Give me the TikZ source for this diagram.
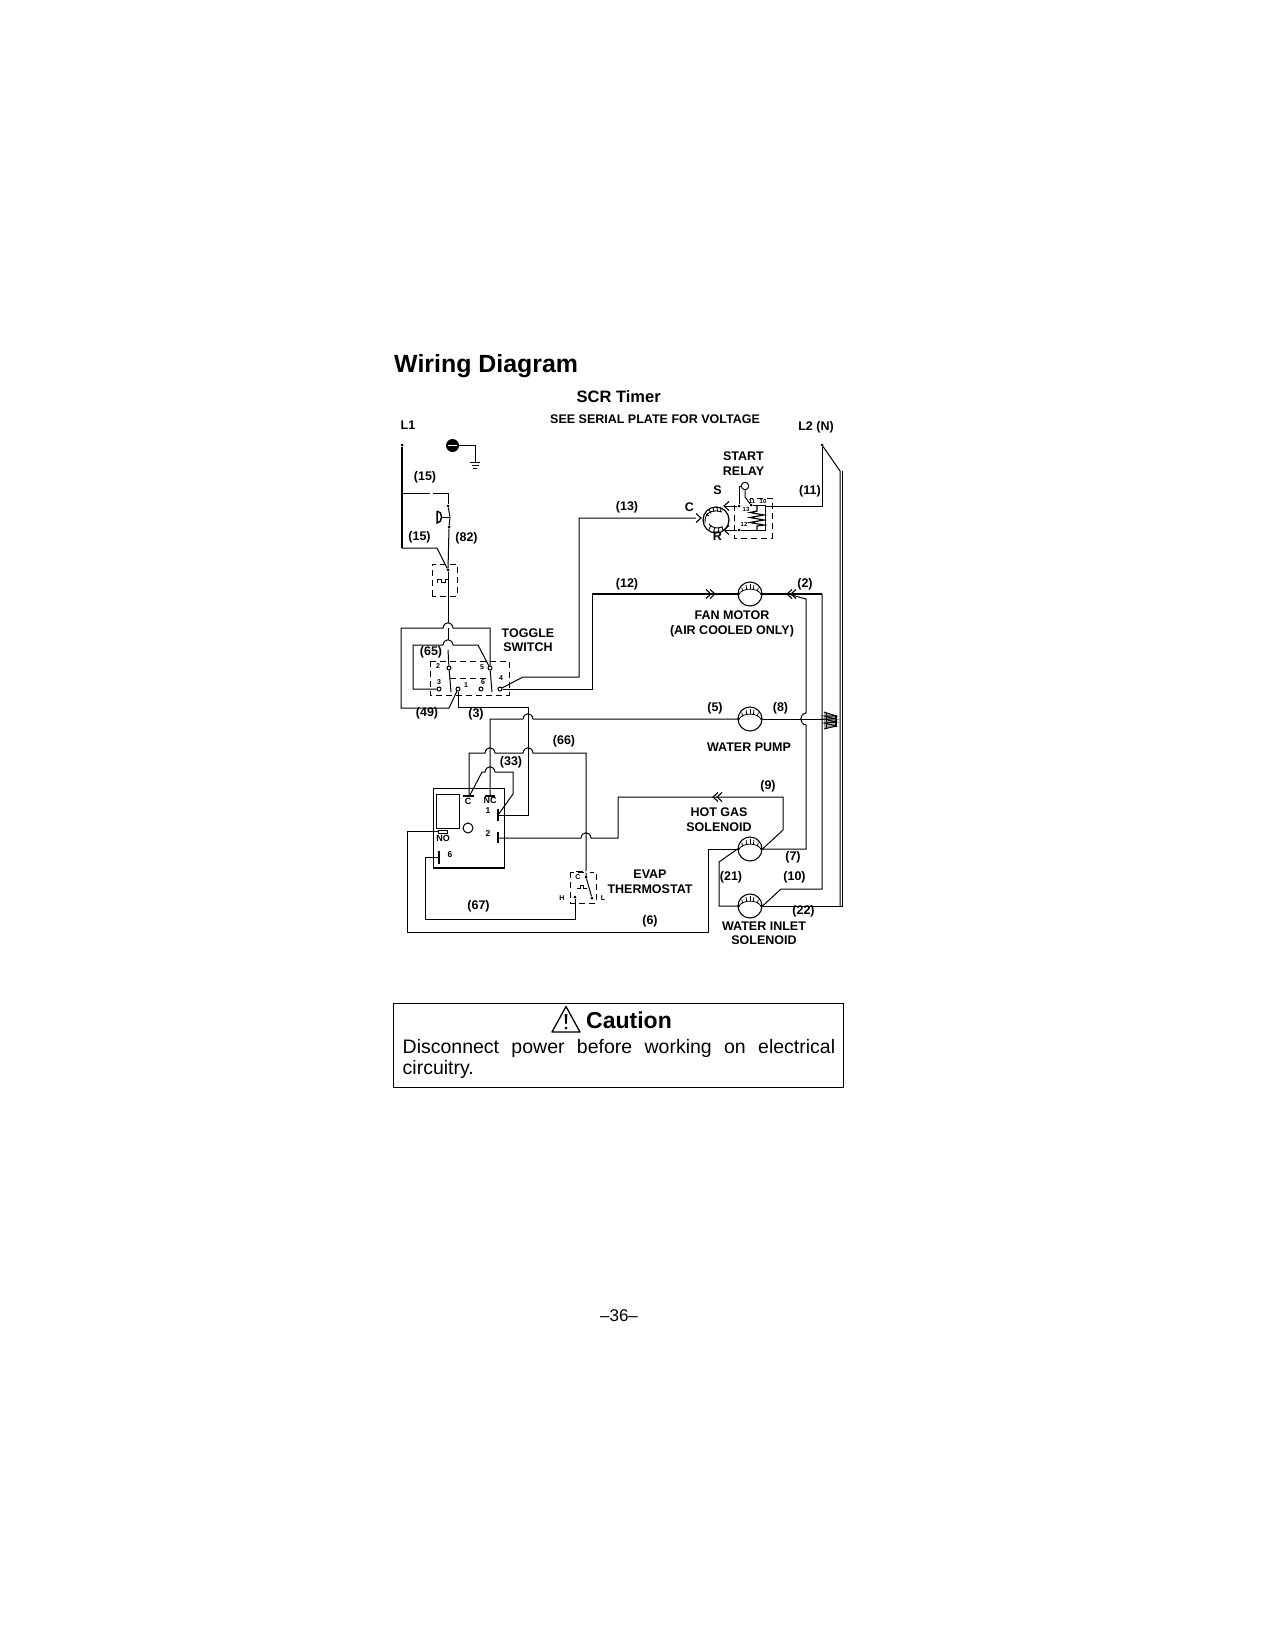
\documentclass[tikz,border=0pt]{standalone}
\usepackage{fontspec}
\setmainfont{Liberation Sans}
\newcommand{\hopU}[2]{-- (#1-5,#2) .. controls (#1-4,#2-7) and (#1+4,#2-7) .. (#1+5,#2)}
\newcommand{\hopL}[2]{-- (#1,#2+6) .. controls (#1-7,#2+5) and (#1-7,#2-5) .. (#1,#2-6)}
\newcommand{\fs}[1]{\fontsize{#1}{#1}\selectfont}
\newcommand{\fsl}[1]{\fontsize{12.5}{#1}\selectfont\bfseries}
\tikzset{
  x=1pt,y=-1pt,
  wire/.style={line width=1pt,line join=miter},
  heavy/.style={line width=2.2pt},
  dashbox/.style={line width=1pt,dash pattern=on 6pt off 4pt},
  lab/.style={inner sep=0pt,font=\fs{12.5}\bfseries},
  labl/.style={inner sep=0pt,align=center,font=\fsl{#1}},
  tiny/.style={inner sep=0pt,font=\fs{7}\bfseries},
  dot/.style={circle,fill=black,inner sep=0pt,minimum size=3pt},
  odot/.style={circle,draw=black,fill=white,line width=1pt,inner sep=0pt,minimum size=4pt},
  motor/.style={circle,draw=black,fill=white,line width=1.1pt,inner sep=0pt,minimum size=24pt},
  bar/.style={line width=1.8pt},
}
\newcommand{\windings}[2]{%
  \draw[line width=.8pt] (#1-11,#2) .. controls (#1-7,#2-6.5) and (#1+7,#2-6.5) .. (#1+11,#2);
  \foreach \dx/\yi/\yo in {-7.5/-2.8/-6.5,-3.5/-4.5/-9,0/-5/-9.8,3.5/-4.5/-9,7.5/-2.8/-6.5}
    \draw[line width=.8pt] (#1+\dx,#2+\yi) -- (#1+\dx*1.1,#2+\yo);
  \fill (#1-11.5,#2) circle[radius=1.3] (#1+11.5,#2) circle[radius=1.3];
}
\newcommand{\chev}[3]{% x, y, direction (+1 right, -1 left)
  \draw[line width=1.1pt] (#1-#3*5,#2-4.5) -- (#1,#2) -- (#1-#3*5,#2+4.5);
}
\begin{document}
\begin{tikzpicture}
\useasboundingbox (0,0) rectangle (1275,1651);
\fill[white] (0,0) rectangle (1275,1651);

% headings
\node[anchor=base west,inner sep=0pt,font=\fs{24.9}\bfseries] (title) at (394,372) {Wiring Diagram};
\node[anchor=base west,inner sep=0pt,font=\fs{16.5}\bfseries] (scr) at (576.5,402) {SCR Timer};
\node[lab,anchor=west] (see) at (550,419) {SEE SERIAL PLATE FOR VOLTAGE};
\node[lab,anchor=west] (l1) at (400.5,425) {L1};
\node[lab] (l2) at (816,427) {L2 (N)};

% named terminals
\node[dot] (L1t) at (402,445) {};
\node[dot] (L2t) at (822,445) {};
\node[dot] (sw1) at (448,506) {};
\node[dot] (sw2) at (449,527) {};
\node[dot] (hp)  at (448,570) {};
\node[odot] (c2) at (449,668) {};
\node[odot] (c5) at (490,668) {};
\node[odot] (c3) at (439,689) {};
\node[odot] (c1) at (458,689) {};
\node[odot] (c6) at (481,689) {};
\node[odot] (c4) at (500,689) {};

% ground
\node[circle,fill=black,inner sep=0pt,minimum size=13pt] (gnd) at (452.5,445.5) {};
\draw[white,line width=1.1pt] (448,445.5) -- (457,445.5);
\coordinate (gb) at (475,462);
\draw[wire] (gnd) -- (475,445.5) -- (gb);
\draw[wire] (470,462) -- (480,462) (471.5,465.5) -- (478.5,465.5) (473,468.8) -- (477,468.8);

% L1 and high pressure / thermal
\draw[heavy] (L1t) -- (402,548);
\draw[wire] (402,493) -- (430,493) (433,493) -- (448,493) -- (sw1);
\draw[wire] (sw1) -- (450,517) -- (sw2);
\draw[wire] (sw2) -- (hp);
\draw[wire] (402,548) -- (437,548) -- (hp);
\draw[line width=1.5pt] (437,511) -- (437,523) .. controls (443,523) and (443,511) .. (437,511);
\draw[wire] (442,517) -- (449,517);
\draw[dashbox] (432,596) -- (432,564) -- (457,564) -- (457,596) -- cycle;
\draw[wire] (437,583) -- (437,579) -- (441,579) -- (441,582) -- (445,582) -- (445,579) -- (449,579);
\draw[wire] (hp) -- (448,623);

% toggle switch
\draw[dashbox] (430,661) rectangle (509,695);
\draw[dashbox] (450,678) -- (490,678);
\draw[wire] (448,628) -- (448,640);
\draw[wire] (448,650) -- (c2);
\draw[wire] (c2) -- (451,692);
\draw[wire] (c5) -- (492,692);
\draw[wire] (c1) -- (449,708) -- (401,708) -- (401,628) \hopU{448}{628} -- (490,628) -- (c5);
\draw[wire] (c3) -- (413,689) -- (413,645) \hopU{448}{645} -- (478,645) -- (c5);
\draw[wire] (c4) -- (523,677) -- (579,677) -- (579,518) -- (696,518);
\draw[wire] (c4) -- (592,689) -- (592,594);
\draw[heavy] (592,594) -- (738,594);
\draw[heavy] (762,594) -- (822,594);

% centre wiring
\draw[wire] (c1) -- (458,707) -- (528,707) -- (528,815) -- (498,815);
\draw[wire] (490,795) -- (490,719) \hopU{528}{719} -- (738,719);
\draw[wire] (469,795) -- (469,753) \hopU{490}{753} \hopU{528}{753} -- (586,753) -- (586,877);
\draw[wire] (470,795) -- (482,772) \hopU{490}{772} -- (513,772) -- (513,794) -- (498,815);

% SCR board
\draw[wire] (433,868) -- (433,788) -- (504,788) -- (504,868);
\draw[line width=1.8pt] (432.5,868) -- (504.5,868);
\draw[wire] (436,794) rectangle (459,828);
\draw[wire] (468,828) circle[radius=5];
\draw[bar] (463,796) -- (474,796);
\draw[bar] (485,796) -- (495,796);
\draw[bar] (498,809) -- (498,821);
\draw[bar] (498,832) -- (498,843);
\draw[bar] (439,851) -- (439,864);
\draw[line width=.7pt] (438,830) rectangle (447,833);
\node[tiny,font=\fs{9}\bfseries] (tC) at (468,801) {C};
\node[tiny,font=\fs{9}\bfseries] (tNC) at (490,800) {NC};
\node[tiny,font=\fs{9}\bfseries] (tNO) at (443,838) {NO};
\node[tiny,font=\fs{8.5}\bfseries] (t1b) at (488,811) {1};
\node[tiny,font=\fs{8.5}\bfseries] (t2b) at (488,834) {2};
\node[tiny,font=\fs{8.5}\bfseries] (t6b) at (450,855) {6};

% contact 2 to hot gas
\node[motor] (hg) at (750,849) {};
\node[motor] (wi) at (750,906) {};
\node[motor] (wp) at (750,719) {};
\node[motor] (fm) at (750,594) {};
\windings{750}{849}\windings{750}{906}\windings{750}{719}\windings{750}{594}
\draw[wire] (498,838) \hopU{586}{838} -- (618,838) -- (618,797) -- (783,797) -- (783,830) -- (hg.east);
\chev{713}{797}{-1}\chev{717}{797}{-1}
\draw[wire] (438,831) -- (407,831) -- (407,932) -- (708,932) -- (708,849) -- (hg.west);
\draw[wire] (hg.west) -- (719,862) -- (719,906) -- (wi.west);
\draw[wire] (hg.east) -- (806,849) -- (806,725) \hopL{806}{719} -- (806,599) -- (788,594);
\draw[wire] (822,594) -- (822,889) -- (781,889) -- (wi.east);
\draw[wire] (wi.east) -- (842.5,906) -- (842.5,471);
\draw[wire] (840,906) -- (840,471) -- (L2t);
\draw[wire] (L2t) -- (822,506) -- (765,506);
\draw[wire] (wp.east) -- (824,719);
\fill[black!35] (824,712) -- (836,715) -- (836,727) -- (824,729) -- cycle;
\draw[line width=.9pt] (824,712) -- (836,716) -- (824,716) -- (836,719) -- (824,719) -- (836,722) -- (824,723) -- (836,726) -- (824,729);
\draw[line width=1.2pt] (836,715) -- (836,727);
\draw[line width=.9pt] (826,713) -- (826,728);

% fan arrows
\chev{711}{594}{1}\chev{715}{594}{1}
\chev{787}{594}{-1}\chev{791}{594}{-1}

% thermostat
\node[dot] (tc) at (586,877) {};
\node[dot] (tl) at (592,898) {};
\node[dot] (th) at (575,897) {};
\draw[dashbox] (570,872) -- (570,903) -- (596,903) -- (596,872) -- cycle;
\draw[white,line width=2pt] (586,872) -- (590,872);
\draw[bar] (576,871.5) -- (583,871.5);
\draw[wire] (tc) -- (tl);
\draw[wire] (577,888) -- (580,888) -- (580,885) -- (583,885) -- (583,888) -- (587,888);
\draw[wire] (th) -- (575,919) -- (425,919) -- (425,857) -- (439,857);
\node[tiny] (tC2) at (578,877) {C};
\node[tiny] (tH) at (562,898) {H};
\node[tiny] (tL) at (603,898) {L};

% compressor and relay
\node[circle,draw=black,fill=white,line width=1.2pt,inner sep=0pt,minimum size=26pt] (comp) at (716,520) {};
\draw[line width=.9pt] (705,523) .. controls (704,512) and (713,509) .. (722,512);
\draw[line width=.9pt] (706,514) -- (709,516) (709,509.5) -- (711,513.5) (713,507.5) -- (714,512) (717,507) -- (717.5,511.5) (721,508) -- (720.5,512);
\draw[line width=.9pt] (709,524) .. controls (712,528) and (717,529) .. (722,527);
\draw[line width=.9pt] (711,525) -- (709,529.5) (715,527) -- (713.5,532) (719,527) -- (718.5,532) (722,526.5) -- (723,530);
\chev{701}{518}{1}
\node[dot] (rS) at (739,506) {};
\node[dot] (rR) at (739,530) {};
\node[dot] (rB) at (751,505) {};
\node[circle,draw=black,fill=white,line width=1pt,inner sep=0pt,minimum size=7.5pt] (rc) at (745,486) {};
\draw[wire] (rc.west) -- (739,486) -- (rS);
\draw[wire] (rc.south) -- (745,497) -- (rB);
\draw[wire] (rS) -- (724,506);
\draw[wire] (rR) -- (724,530);
\chev{724}{506}{-1}\chev{724}{530}{-1}
\draw[dashbox] (734,505) -- (734,538) -- (772,538) -- (772,498) -- (750,498);
\draw[wire] (rB) -- (765,505) -- (765,530) -- (rR);
\draw[line width=1.2pt] (757,505) -- (757,511) -- (750,512.5) -- (764,515) -- (750,517.5) -- (764,520) -- (750,522.5) -- (764,525) -- (757,526) -- (757,530);
\node[tiny,font=\fs{6}\bfseries] (r13) at (746,509) {13};
\node[tiny,font=\fs{6}\bfseries] (r11) at (752,501) {11};
\node[tiny,font=\fs{6}\bfseries] (r10) at (763,501) {10};
\node[tiny,font=\fs{6}\bfseries] (r12) at (744,524) {12};

% toggle numbers
\node[tiny] (n2) at (438,666) {2};
\node[tiny] (n5) at (482,667) {5};
\node[tiny] (n3) at (439,682) {3};
\node[tiny] (n1) at (466,685) {1};
\node[tiny] (n6) at (483,682) {6};
\node[tiny] (n4) at (501,678) {4};

% labels
\node[lab] (a15a) at (425,477) {(15)};
\node[lab] (a15b) at (419.5,537.5) {(15)};
\node[lab] (a82) at (466.5,538.5) {(82)};
\node[lab] (a65) at (431,652.5) {(65)};
\node[lab] (a49) at (427,713) {(49)};
\node[lab] (a3) at (476,714) {(3)};
\node[lab] (a66) at (564,741) {(66)};
\node[lab] (a33) at (511,762.5) {(33)};
\node[lab] (a67) at (478.5,906) {(67)};
\node[lab] (a6) at (650,921) {(6)};
\node[lab] (a13) at (627,507) {(13)};
\node[lab] (a12) at (627,584) {(12)};
\node[lab] (a11) at (810,491) {(11)};
\node[lab] (a2) at (805,584) {(2)};
\node[lab] (a5) at (715,708.5) {(5)};
\node[lab] (a8) at (780.5,708.5) {(8)};
\node[lab] (a9) at (768,786) {(9)};
\node[lab] (a7) at (793,857) {(7)};
\node[lab] (a21) at (731,877) {(21)};
\node[lab] (a10) at (794.5,877) {(10)};
\node[lab] (a22) at (803.5,911) {(22)};
\node[lab] (lC) at (689.5,507) {C};
\node[lab] (lS) at (717.5,490) {S};
\node[lab] (lR) at (717.5,536) {R};
\node[labl=14] (ltg) at (528,640) {TOGGLE\\SWITCH};
\node[labl=15] (lsr) at (743.5,463.5) {START\\RELAY};
\node[labl=15] (lfm) at (732,624) {FAN MOTOR\\(AIR COOLED ONLY)};
\node[lab] (lwp) at (749,747) {WATER PUMP};
\node[labl=15] (lhg) at (719,819.5) {HOT GAS\\SOLENOID};
\node[labl=15] (lev) at (650,882) {EVAP\\THERMOSTAT};
\node[labl=14] (lwi) at (764,933) {WATER INLET\\SOLENOID};

% caution box
\draw[line width=1pt] (393.5,1003.5) rectangle (843.5,1087);
\draw[line width=1.3pt,line join=round] (566,1006.5) -- (552,1032) -- (580,1032) -- cycle;
\fill (564.6,1014) -- (567.4,1014) -- (566.7,1024) -- (565.3,1024) -- cycle;
\fill (566,1028) circle[radius=1.5];
\node[anchor=base west,inner sep=0pt,font=\fs{23}\bfseries] (cau) at (586,1028) {Caution};
\node[anchor=base west,inner sep=0pt,font=\fs{19.5}] (b1) at (402.5,1053) {\hbox to 432.5pt{Disconnect\hfill power\hfill before\hfill working\hfill on\hfill electrical}};
\node[anchor=base west,inner sep=0pt,font=\fs{19.5}] (b2) at (402.5,1074) {circuitry.};
\node[inner sep=0pt,font=\fs{17}] (pg) at (619,1316) {–36–};
\end{tikzpicture}
\end{document}
